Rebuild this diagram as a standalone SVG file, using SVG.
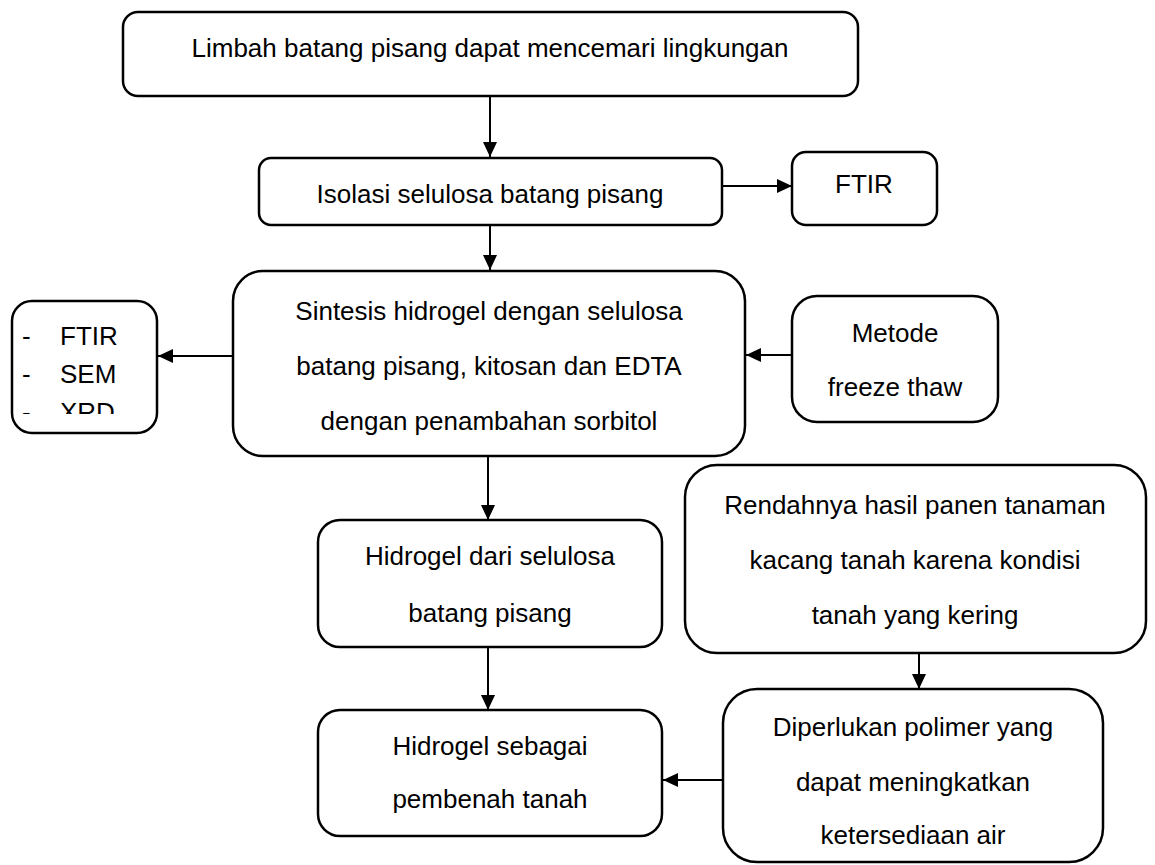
<svg xmlns="http://www.w3.org/2000/svg" width="1155" height="865" viewBox="0 0 1155 865">
<style>
.box{fill:#fff;stroke:#000;stroke-width:2.5}
.t{font-family:"Liberation Sans",Arial,sans-serif;font-size:26px;fill:#000;text-anchor:middle}
.tl{font-family:"Liberation Sans",Arial,sans-serif;font-size:26px;fill:#000}
.c{stroke:#000;stroke-width:2;fill:none;marker-end:url(#ah)}
</style>
<defs>
<marker id="ah" markerUnits="userSpaceOnUse" markerWidth="15" markerHeight="14" viewBox="0 0 15 14" refX="15" refY="7" orient="auto">
<path d="M0,0 L15,7 L0,14 Z" fill="#000"/>
</marker>
<clipPath id="clipL"><rect x="12" y="301" width="145" height="113"/></clipPath>
</defs>
<rect width="1155" height="865" fill="#fff"/>
<g id="connectors">
<line class="c" x1="490" y1="96" x2="490" y2="157"/>
<line class="c" x1="722" y1="186" x2="792" y2="186"/>
<line class="c" x1="490" y1="225" x2="490" y2="270"/>
<line class="c" x1="233" y1="356" x2="158" y2="356"/>
<line class="c" x1="792" y1="355" x2="746" y2="355"/>
<line class="c" x1="488" y1="456" x2="488" y2="520"/>
<line class="c" x1="488" y1="647" x2="488" y2="710"/>
<line class="c" x1="919" y1="653" x2="919" y2="689"/>
<line class="c" x1="723" y1="780" x2="663" y2="780"/>
</g>
<g id="n1">
<rect class="box" x="123" y="12" width="735" height="84" rx="15"/>
<text class="t" x="490" y="57">Limbah batang pisang dapat mencemari lingkungan</text>
</g>
<g id="n2">
<rect class="box" x="259" y="158" width="463" height="67" rx="12"/>
<text class="t" x="490" y="203">Isolasi selulosa batang pisang</text>
</g>
<g id="n3">
<rect class="box" x="792" y="152" width="145" height="73" rx="14"/>
<text class="t" x="864" y="193">FTIR</text>
</g>
<g id="n4">
<rect class="box" x="233" y="271" width="512" height="185" rx="30"/>
<text class="t" x="489" y="320">Sintesis hidrogel dengan selulosa</text>
<text class="t" x="489" y="375">batang pisang, kitosan dan EDTA</text>
<text class="t" x="489" y="430">dengan penambahan sorbitol</text>
</g>
<g id="n5">
<rect class="box" x="12" y="301" width="145" height="132" rx="20"/>
<g clip-path="url(#clipL)">
<text class="tl" x="22" y="345">-</text>
<text class="tl" x="60" y="345">FTIR</text>
<text class="tl" x="22" y="383">-</text>
<text class="tl" x="60" y="383">SEM</text>
<text class="tl" x="22" y="421">-</text>
<text class="tl" x="60" y="421">XRD</text>
</g>
</g>
<g id="n6">
<rect class="box" x="792" y="296" width="206" height="126" rx="25"/>
<text class="t" x="895" y="342">Metode</text>
<text class="t" x="895" y="396">freeze thaw</text>
</g>
<g id="n7">
<rect class="box" x="318" y="520" width="344" height="127" rx="22"/>
<text class="t" x="490" y="565">Hidrogel dari selulosa</text>
<text class="t" x="490" y="622">batang pisang</text>
</g>
<g id="n8">
<rect class="box" x="318" y="710" width="344" height="126" rx="22"/>
<text class="t" x="490" y="755">Hidrogel sebagai</text>
<text class="t" x="490" y="808">pembenah tanah</text>
</g>
<g id="n9">
<rect class="box" x="685" y="465" width="461" height="188" rx="32"/>
<text class="t" x="915" y="514">Rendahnya hasil panen tanaman</text>
<text class="t" x="915" y="569">kacang tanah karena kondisi</text>
<text class="t" x="915" y="624">tanah yang kering</text>
</g>
<g id="n10">
<rect class="box" x="723" y="689" width="380" height="173" rx="34"/>
<text class="t" x="913" y="736">Diperlukan polimer yang</text>
<text class="t" x="913" y="791">dapat meningkatkan</text>
<text class="t" x="913" y="844">ketersediaan air</text>
</g>
</svg>
